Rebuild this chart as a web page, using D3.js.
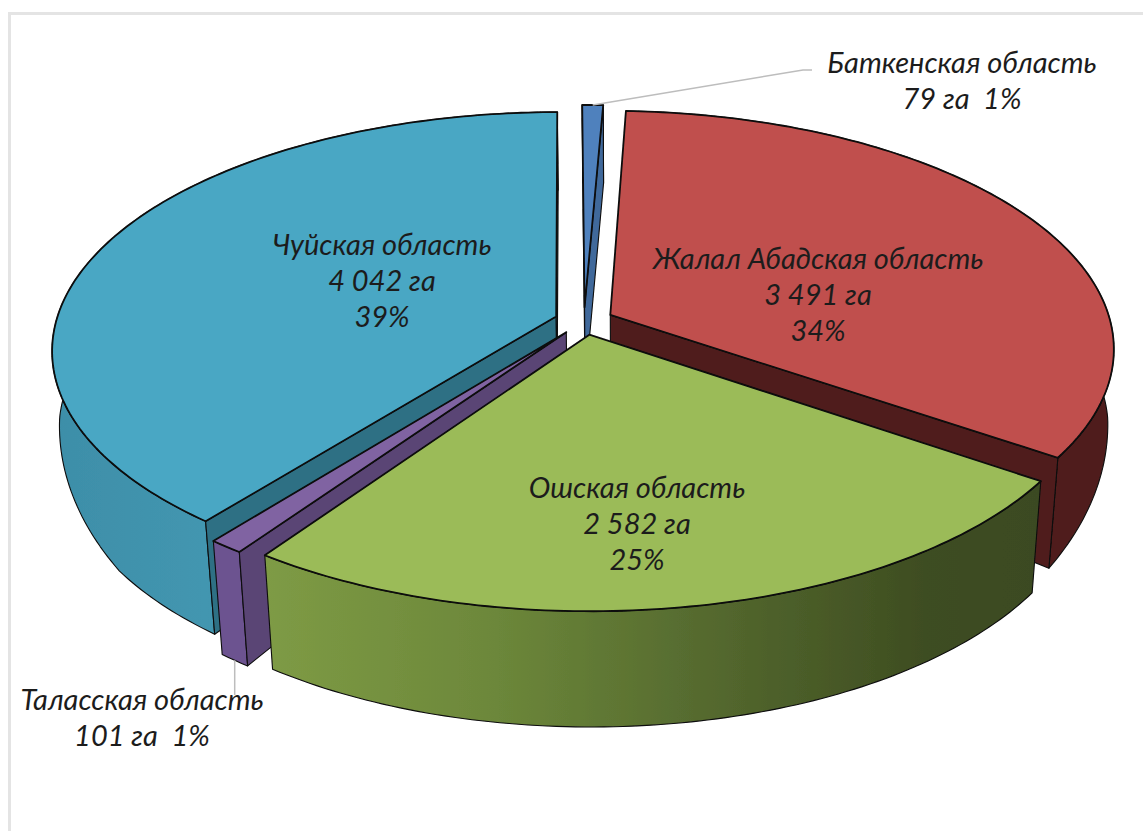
<!DOCTYPE html>
<html>
<head>
<meta charset="utf-8">
<script src="https://cdn.jsdelivr.net/npm/d3@7"></script>
<style>
  html, body { margin: 0; padding: 0; background: #fff; }
  svg { display: block; }
  text { font-family: Lato, "Open Sans", sans-serif; font-style: italic; font-size: 29px; fill: #1c1c1c; text-anchor: middle; white-space: pre; }
</style>
</head>
<body>
<svg id="chart" width="1143" height="831"></svg>
<script>
// regions, in chart order (clockwise from 12 o'clock)
const regions = ["Баткенская область", "Жалал Абадская область", "Ошская область", "Таласская область", "Чуйская область"]
const hectares = [79, 3491, 2582, 101, 4042]

const top_colors = ["#4f81bd", "#c0504d", "#9bbb59", "#8064a2", "#48a7c4"]
const cut_colors = ["#41699b", "#4f1f1e", "#3c4a20", "#5a4474", "#2f6f84"]
const wall_colors = ["#41699b", "#4f1f1e", "url(#greenWall)", "#6c5290", "url(#blueWall)"]

// how far every slice is pulled out of the pie
const explode = 29.5
// drawing order, back to front
const draw_order = [4, 0, 1, 3, 2]

// label anchors: [x, baseline of first line], one per region
const label_pos = [[962, 73], [818, 269], [637, 498], [142, 710], [382, 255]]

const svg = d3.select("#chart")

// frame left over from the spreadsheet
svg.append("path")
    .attr("d", "M9.5,831V13.5H1143")
    .attr("fill", "none").attr("stroke", "#e4e4e4").attr("stroke-width", 3)

/*------------------ projection of the tilted pie ------------------*/
const cx = 584, cy = 321
const rx = 500, rz = 234, persp = 7.2
const start_angle = -0.3 * Math.PI / 180

function project(wx, wz) {
    const s = persp / (persp + wz / rz)
    return [cx + wx * s, cy - wz * s]
}

// point on the pie's top, polar around the slice's own pulled out centre
function on_top(d, angle, r) {
    const mid = (d.startAngle + d.endAngle) / 2
    const ox = explode * Math.sin(mid)
    const oz = explode * (rz / rx) * Math.cos(mid)
    return project(ox + rx * r * Math.sin(angle), oz + rz * r * Math.cos(angle))
}

// wall height and inward lean grow towards the viewer
const wall_height = d3.scaleLinear().domain([340, 460, 620]).range([78, 111, 116]).clamp(true)
const wall_lean = d3.scaleLinear().domain([340, 460]).range([0.012, 0.0212]).clamp(true)

// the same point on the pie's underside
function below(p) {
    return [
        p[0] + (632 - p[0]) * wall_lean(p[1]),
        p[1] + wall_height(p[1])
    ]
}

const pie = d3.pie().sort(null).startAngle(start_angle).endAngle(start_angle + 2 * Math.PI)
const arcs = pie(hectares)
const line = d3.line()

function rim(d) {
    const n = Math.max(3, Math.ceil((d.endAngle - d.startAngle) * 60))
    return d3.range(n + 1).map(k => on_top(d, d.startAngle + (d.endAngle - d.startAngle) * k / n, 1))
}

// a cut wall shows only if going down leaves the top face
function wall_visible(apex, p, inner) {
    const v = [below(p)[0] - p[0], below(p)[1] - p[1]]
    const ex = p[0] - apex[0], ey = p[1] - apex[1]
    const a = ex * v[1] - ey * v[0]
    const b = ex * (inner[1] - apex[1]) - ey * (inner[0] - apex[0])
    return a * b < 0
}

const defs = svg.append("defs")

function add_gradient(id, stops) {
    const g = defs.append("linearGradient").attr("id", id)
    stops.forEach(s => g.append("stop").attr("offset", s[0]).attr("stop-color", s[1]))
}
add_gradient("greenWall", [[0, "#7e9b45"], [0.3, "#6c873a"], [0.6, "#52662d"], [0.85, "#3e4d21"], [1, "#3b4a20"]])
add_gradient("blueWall", [[0, "#3d8ea8"], [0.3, "#4396b0"], [1, "#3b8aa3"]])

defs.append("filter").attr("id", "soft")
    .append("feGaussianBlur").attr("stdDeviation", 0.45)

const pie_group = svg.append("g").attr("filter", "url(#soft)")

draw_order.forEach(i => {
    const d = arcs[i]
    const g = pie_group.append("g")
    const top_rim = rim(d)
    const apex = on_top(d, d.startAngle, 0)
    const inner = top_rim[Math.floor(top_rim.length / 2)]

    // outer wall
    g.append("path")
        .attr("d", line(top_rim.concat(top_rim.map(below).reverse())) + "Z")
        .attr("fill", wall_colors[i])
        .attr("stroke", "#0c0c0c").attr("stroke-width", 1.1).attr("stroke-linejoin", "round")

    // cut walls
    ;[top_rim[0], top_rim[top_rim.length - 1]].forEach(p => {
        if (!wall_visible(apex, p, inner)) return
        g.append("path")
            .attr("d", line([apex, p, below(p), below(apex)]) + "Z")
            .attr("fill", cut_colors[i])
            .attr("stroke", "#0c0c0c").attr("stroke-width", 1.1).attr("stroke-linejoin", "round")
    })

    // top face
    g.append("path")
        .attr("d", line([apex].concat(top_rim)) + "Z")
        .attr("fill", top_colors[i])
        .attr("stroke", "#0a0a0a").attr("stroke-width", 1.8).attr("stroke-linejoin", "round")
})

/*------------------------ leaders and labels ------------------------*/
const batken_rim = on_top(arcs[0], (arcs[0].startAngle + arcs[0].endAngle) / 2, 1)
const talas_rim = below(on_top(arcs[3], (arcs[3].startAngle + arcs[3].endAngle) / 2, 1))

svg.append("path")
    .attr("d", line([batken_rim, [803, 70], [812, 70]]))
    .attr("fill", "none").attr("stroke", "#bdbdbd").attr("stroke-width", 1.5)
svg.append("path")
    .attr("d", line([talas_rim, [talas_rim[0], 695]]))
    .attr("fill", "none").attr("stroke", "#bdbdbd").attr("stroke-width", 1.5)

const fmt = d3.formatLocale({ decimal: ",", thousands: " ", grouping: [3], currency: ["", ""] }).format(",")
const total = d3.sum(hectares)
const pct = v => Math.round(v / total * 100) + "%"

regions.forEach((name, i) => {
    const small = hectares[i] / total < 0.02
    const lines = small
        ? [name, fmt(hectares[i]) + " га  " + pct(hectares[i])]
        : [name, fmt(hectares[i]) + " га", pct(hectares[i])]
    const t = svg.append("text")
    lines.forEach((s, k) => {
        t.append("tspan")
            .attr("x", label_pos[i][0])
            .attr("y", label_pos[i][1] + k * 36)
            .text(s)
    })
})
</script>
</body>
</html>
